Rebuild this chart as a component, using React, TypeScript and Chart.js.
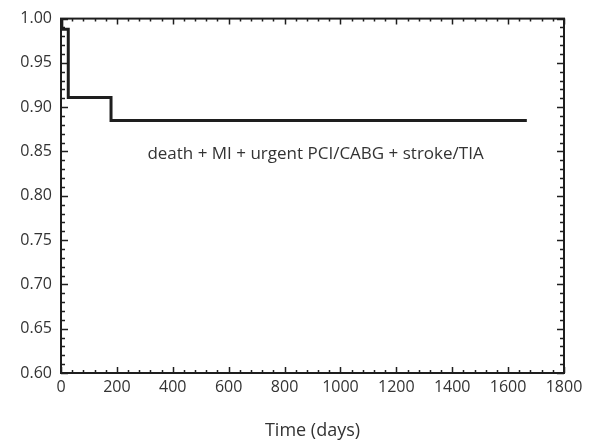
import React, { useEffect, useRef } from 'react';
import { Chart, registerables } from 'chart.js';

Chart.register(...registerables);

const timeDays = [0, 3, 26, 179, 1667];
const survival = [1.0, 0.988, 0.911, 0.885, 0.885];
const xTickLabels = [0, 200, 400, 600, 800, 1000, 1200, 1400, 1600, 1800];
const yTickLabels = ['0.60', '0.65', '0.70', '0.75', '0.80', '0.85', '0.90', '0.95', '1.00'];
const seriesLabel = 'death + MI + urgent PCI/CABG + stroke/TIA';
const xAxisTitle = 'Time (days)';

const FONT = '"Open Sans", sans-serif';
const TEXT = '#333333';
const INK = '#1e1e1e';

const framePlugin = {
  id: 'frame',
  afterDraw(chart: any) {
    const { ctx, chartArea: a, scales } = chart;
    const xs = scales.x;
    const ys = scales.y;
    ctx.save();
    ctx.strokeStyle = INK;
    ctx.lineWidth = 2;
    ctx.strokeRect(a.left, a.top, a.right - a.left, a.bottom - a.top);
    ctx.lineWidth = 1.5;
    ctx.beginPath();
    xs.ticks.forEach((t: any) => {
      const px = Math.round(xs.getPixelForValue(t.value)) + 0.5;
      const major = xTickLabels.includes(Math.round(t.value));
      const len = major ? 6 : 3;
      ctx.moveTo(px, a.bottom);
      ctx.lineTo(px, a.bottom - len);
      ctx.moveTo(px, a.top);
      ctx.lineTo(px, a.top + len);
    });
    ys.ticks.forEach((t: any) => {
      const py = Math.round(ys.getPixelForValue(t.value)) + 0.5;
      const major = yTickLabels.includes(t.value.toFixed(2));
      const len = major ? 7 : 4;
      ctx.moveTo(a.left, py);
      ctx.lineTo(a.left + len, py);
      ctx.moveTo(a.right, py);
      ctx.lineTo(a.right - len, py);
    });
    ctx.stroke();

    ctx.fillStyle = TEXT;
    ctx.textAlign = 'center';
    ctx.textBaseline = 'middle';
    ctx.font = '17px ' + FONT;
    ctx.fillText(seriesLabel, a.left + (a.right - a.left) * 0.506, a.top + (a.bottom - a.top) * 0.383);
    ctx.font = '18px ' + FONT;
    ctx.fillText(xAxisTitle, (a.left + a.right) / 2, 431);
    ctx.restore();
  },
};

export default function App() {
  const ref = useRef<HTMLCanvasElement>(null);
  useEffect(() => {
    document.body.style.margin = '0';
    const chart = new Chart(ref.current!, {
      type: 'scatter',
      data: {
        datasets: [
          {
            label: seriesLabel,
            data: timeDays.map((t, i) => ({ x: t, y: survival[i] })),
            showLine: true,
            stepped: true,
            borderColor: INK,
            borderWidth: 3,
            pointRadius: 0,
            fill: false,
          },
        ],
      },
      options: {
        animation: false,
        responsive: false,
        layout: { padding: { left: 0, right: 30, top: 18, bottom: 0 } },
        plugins: { legend: { display: false }, tooltip: { enabled: false } },
        scales: {
          x: {
            type: 'linear',
            min: 0,
            max: 1800,
            grid: { display: false, drawTicks: false },
            border: { display: false },
            afterFit: (s: any) => { s.height = 70; },
            ticks: {
              stepSize: 40,
              autoSkip: false,
              maxRotation: 0,
              padding: 5,
              color: TEXT,
              font: { family: FONT, size: 16 },
              callback: (v: any) => (xTickLabels.includes(Math.round(Number(v))) ? String(Math.round(Number(v))) : ''),
            },
          },
          y: {
            type: 'linear',
            min: 0.6,
            max: 1.0,
            grid: { display: false, drawTicks: false },
            border: { display: false },
            afterFit: (s: any) => { s.width = 61; },
            ticks: {
              stepSize: 0.01,
              autoSkip: false,
              padding: 9,
              color: TEXT,
              font: { family: FONT, size: 16 },
              callback: (v: any) => {
                const s = Number(v).toFixed(2);
                return yTickLabels.includes(s) ? s : '';
              },
            },
          },
        },
      },
      plugins: [framePlugin],
    });
    return () => chart.destroy();
  }, []);
  return <canvas ref={ref} width={594} height={443} />;
}
